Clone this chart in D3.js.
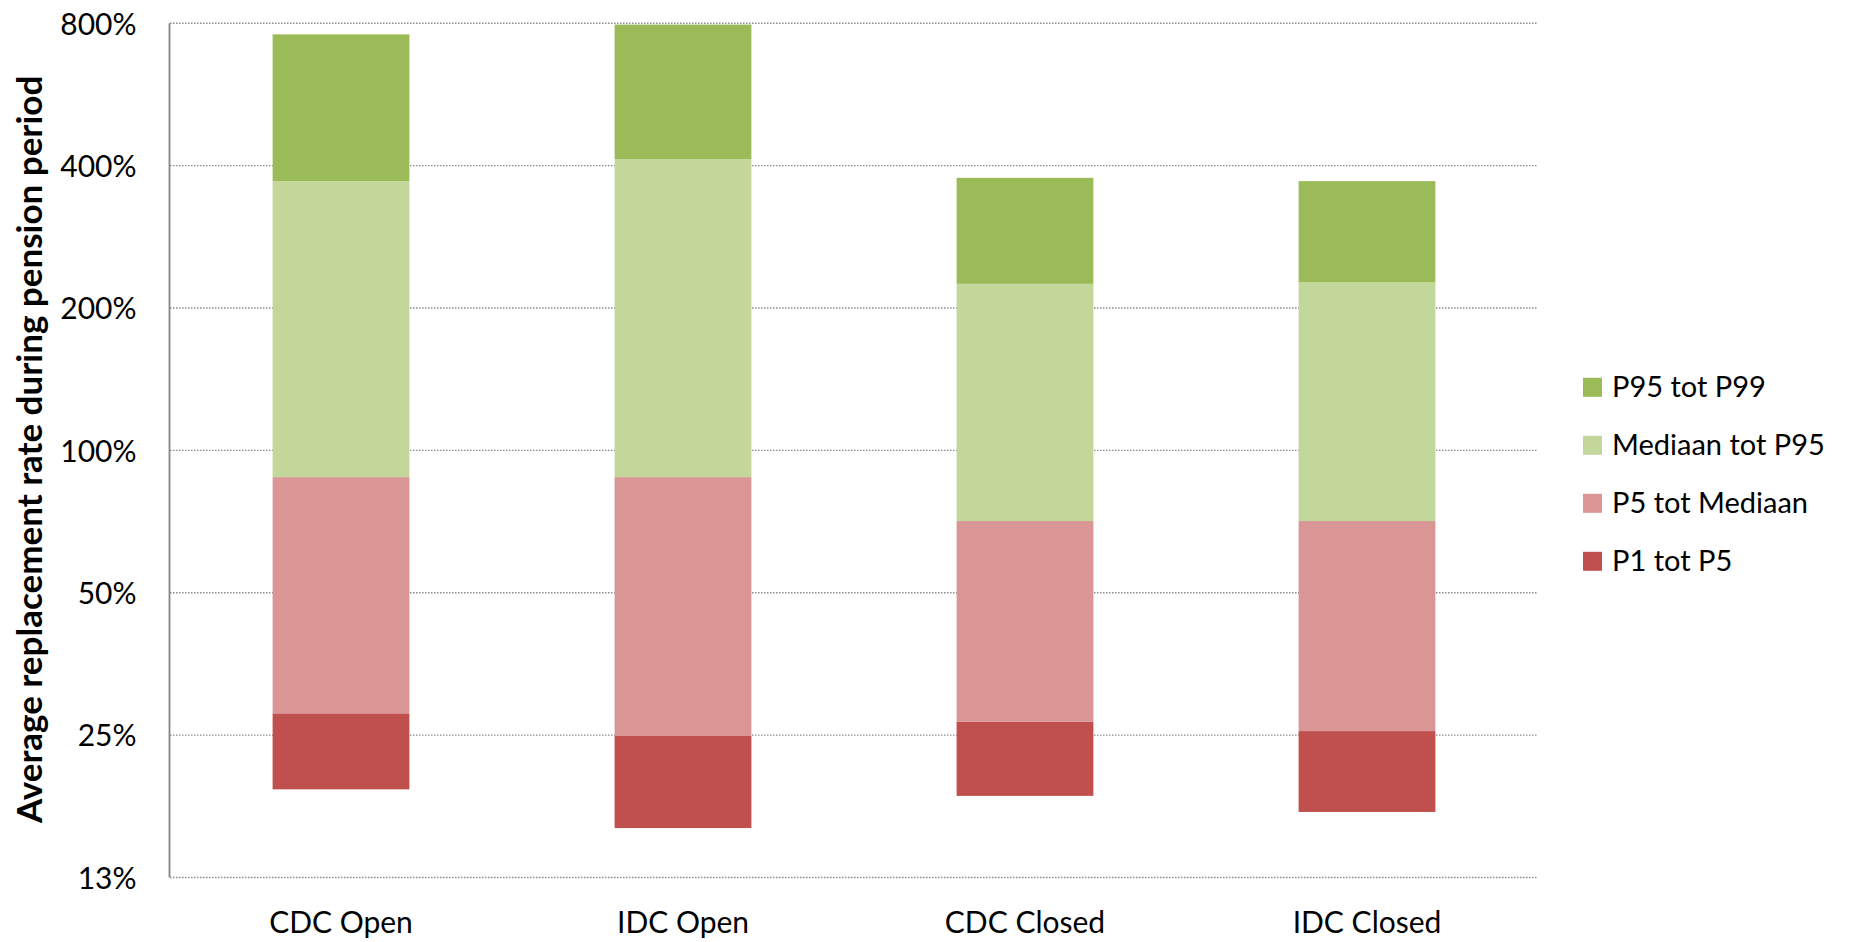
<!DOCTYPE html>
<html>
<head>
<meta charset="utf-8">
<script src="https://cdn.jsdelivr.net/npm/d3@7/dist/d3.min.js"></script>
<style>
  html, body { margin: 0; padding: 0; background: #ffffff; }
  svg { display: block; font-family: Lato, "Open Sans", sans-serif; }
</style>
</head>
<body>
<svg id="chart" width="1863" height="942"></svg>
<script>
// ---- data (values in %) ----
const categories = ["CDC Open", "IDC Open", "CDC Closed", "IDC Closed"];
const p1     = [19.2, 15.9, 18.6, 17.2];
const p5     = [27.8, 24.9, 26.7, 25.5];
const median = [87.8, 87.8, 70.9, 70.9];
const p95    = [371, 413, 225, 227];
const p99    = [758, 795, 377, 371];
const seriesNames = ["P1 tot P5", "P5 tot Mediaan", "Mediaan tot P95", "P95 tot P99"];
const seriesColors = ["#C0504D", "#DA9694", "#C4D79B", "#9BBB59"];
const tickValues = [12.5, 25, 50, 100, 200, 400, 800];
const tickLabels = ["13%", "25%", "50%", "100%", "200%", "400%", "800%"];
const yTitle = "Average replacement rate during pension period";

(function () {
// segments built from the percentile arrays
const bounds = [p1, p5, median, p95, p99];
const segments = [];
seriesNames.forEach((name, s) => {
  categories.forEach((c, i) => {
    segments.push({ series: s, cat: c, lo: bounds[s][i], hi: bounds[s + 1][i] });
  });
});

const svg = d3.select("#chart");
const mL = 170, mR = 1538, mT = 23.3, mB = 877.5;

const x = d3.scaleBand().domain(categories).range([mL, mR])
  .paddingInner(0.6).paddingOuter(0.3);
const y = d3.scaleLog().base(2).domain([12.5, 800]).range([mB, mT]);

// gridlines
svg.append("g").selectAll("line").data(tickValues).join("line")
  .attr("x1", mL).attr("x2", mR)
  .attr("y1", d => y(d)).attr("y2", d => y(d))
  .attr("stroke", "#8a8a8a").attr("stroke-width", 1.4)
  .attr("stroke-dasharray", "1.5 1.5");

// bars
svg.append("g").selectAll("rect").data(segments).join("rect")
  .attr("x", d => x(d.cat))
  .attr("width", x.bandwidth())
  .attr("y", d => y(d.hi))
  .attr("height", d => y(d.lo) - y(d.hi))
  .attr("fill", d => seriesColors[d.series]);

// y axis line
svg.append("line")
  .attr("x1", mL - 0.5).attr("x2", mL - 0.5)
  .attr("y1", mT).attr("y2", mB)
  .attr("stroke", "#868686").attr("stroke-width", 1.8);

// y axis labels
const yAxis = d3.axisLeft(y).tickValues(tickValues)
  .tickFormat((d, i) => tickLabels[i]).tickSize(0).tickPadding(33.5);
const gy = svg.append("g").attr("transform", `translate(${mL},0)`).call(yAxis);
gy.select(".domain").remove();
gy.selectAll("text").attr("font-family", "Lato, 'Open Sans', sans-serif")
  .attr("font-size", 30).attr("fill", "#000").attr("dy", "0.36em");

// x axis labels
const xAxis = d3.axisBottom(x).tickSize(0).tickPadding(34);
const gx = svg.append("g").attr("transform", `translate(0,${mB})`).call(xAxis);
gx.select(".domain").remove();
gx.selectAll("text").attr("font-family", "Lato, 'Open Sans', sans-serif")
  .attr("font-size", 30).attr("fill", "#000");

// y title
svg.append("text")
  .attr("transform", `translate(42,${(mT + mB) / 2 - 1}) rotate(-90)`)
  .attr("text-anchor", "middle")
  .attr("font-size", 35).attr("font-weight", "bold").attr("fill", "#000")
  .text(yTitle);

// legend (top to bottom: reverse series order)
const legendOrder = [3, 2, 1, 0];
const lg = svg.append("g");
legendOrder.forEach((s, k) => {
  const cy = 387.3 + k * 58;
  lg.append("rect").attr("x", 1583).attr("y", cy - 9.5)
    .attr("width", 19).attr("height", 19).attr("fill", seriesColors[s]);
  lg.append("text").attr("x", 1612).attr("y", cy + 10)
    .attr("font-size", 29).attr("fill", "#000").text(seriesNames[s]);
});
})();
</script>
</body>
</html>
